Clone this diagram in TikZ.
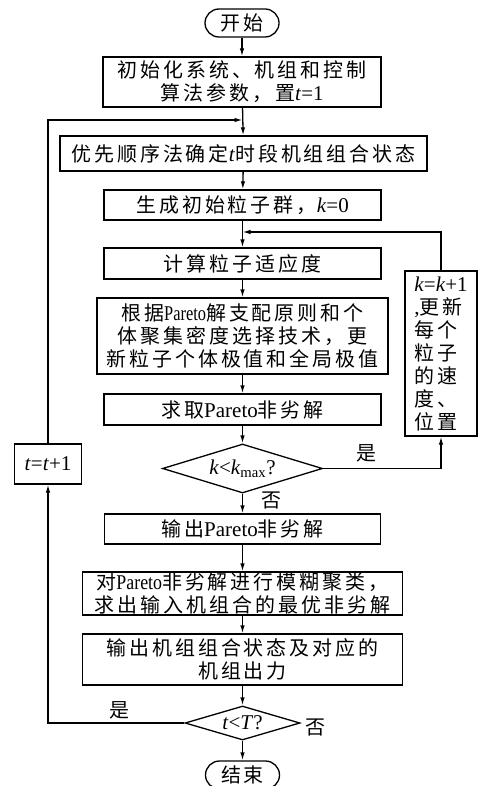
\documentclass[tikz,border=0pt]{standalone}
\usepackage{fontspec}
\usepackage{graphicx}
\setmainfont{Liberation Serif}
\newfontfamily\cjk[Scale=0.95,LetterSpace=15]{Noto Sans CJK SC}
\newcommand\zh[1]{{\cjk #1}}
\newcommand\narrow[2]{\scalebox{#1}[1]{#2}}
\usetikzlibrary{shapes.geometric,arrows.meta}
\begin{document}
\begin{tikzpicture}[x=1pt,y=-1pt,
  box/.style={draw, line width=1.3pt, inner sep=0pt, align=center, font=\fontsize{21}{23}\selectfont},
  term/.style={box, rounded corners=14pt, minimum width=74pt, minimum height=28pt},
  dec/.style={draw, diamond, line width=1.3pt, inner sep=0pt, font=\fontsize{21}{23}\selectfont},
  arr/.style={line width=1.3pt, -{Latex[length=8pt,width=4.5pt]}},
  ln/.style={line width=1.3pt},
  lab/.style={inner sep=0pt, font=\fontsize{21}{23}\selectfont}]
\useasboundingbox (0,0) rectangle (484,786);
\fill[white] (0,0) rectangle (484,786);
\node[term] (start) at (242,23) {\zh{开始}};
\node[box, minimum width=278pt, minimum height=50pt] (b1) at (242,82) {\zh{初始化系统、机组和控制}\\\zh{算法参数，置}\textit{t}=1};
\node[box, minimum width=367pt, minimum height=35pt] (b2) at (243.5,153.5) {\zh{优先顺序法确定}\textit{t}\zh{时段机组组合状态}};
\node[box, minimum width=277pt, minimum height=30pt] (b3) at (242.5,205) {\zh{生成初始粒子群，}\textit{k}=0};
\node[box, minimum width=277pt, minimum height=31pt] (b4) at (242.5,263.5) {\zh{计算粒子适应度}};
\node[box, minimum width=291pt, minimum height=76pt] (b5) at (242.5,336) {\zh{根据}\narrow{0.78}{Pareto}\zh{解支配原则和个}\\\zh{体聚集密度选择技术，更}\\\zh{新粒子个体极值和全局极值}};
\node[box, minimum width=277pt, minimum height=31pt] (b6) at (242.5,409.5) {\zh{求取}Pareto\zh{非劣解}};
\node[dec, aspect=3.3, minimum width=160pt, minimum height=49pt] (d1) at (242.5,468.5) {\textit{k}<\textit{k}\textsubscript{max}?};
\node[box, minimum width=276pt, minimum height=30pt] (b7) at (242.5,529) {\zh{输出}Pareto\zh{非劣解}};
\node[box, minimum width=320pt, minimum height=43pt] (b8) at (242.5,593.5) {\zh{对}\narrow{0.85}{Pareto}\zh{非劣解进行模糊聚类，}\\\zh{求出输入机组合的最优非劣解}};
\node[box, minimum width=320pt, minimum height=51pt] (b9) at (242.5,659.5) {\zh{输出机组组合状态及对应的}\\\zh{机组出力}};
\node[dec, aspect=3.4, minimum width=115pt, minimum height=34pt] (d2) at (242.5,723) {\textit{t}<\textit{T}?};
\node[term] (end) at (242.5,775) {\zh{结束}};
\node[box, align=left, minimum width=72pt, minimum height=165pt] (rb) at (441,353.5) {\textit{k}=\textit{k}+1\\,\zh{更新}\\\zh{每个}\\\zh{粒子}\\\zh{的速}\\\zh{度、}\\\zh{位置}};
\node[box, minimum width=67pt, minimum height=40pt] (tb) at (48,464) {\textit{t}=\textit{t}+1};
\coordinate (j1) at (242.5,120);
\coordinate (j2) at (242.5,232);
\coordinate (r1) at (441,468.5);
\coordinate (l1) at (48,723);
\draw[arr] (start) -- (b1);
\draw[arr] (b1) -- (b2);
\draw[arr] (b2) -- (b3);
\draw[arr] (b3) -- (b4);
\draw[arr] (b4) -- (b5);
\draw[arr] (b5) -- (b6);
\draw[arr] (b6) -- (d1);
\draw[arr] (d1) -- (b7);
\draw[arr] (b7) -- (b8);
\draw[arr] (b8) -- (b9);
\draw[arr] (b9) -- (d2);
\draw[arr] (d2) -- (end);
\draw[arr] (d1.east) -- (r1) -- (rb.south);
\draw[arr] (rb.north) |- (j2);
\draw[arr] (d2.west) -- (l1) -- (tb.south);
\draw[arr] (tb.north) |- (j1);
\node[lab] (y1) at (366,453) {\zh{是}};
\node[lab] (n1) at (271,500) {\zh{否}};
\node[lab] (y2) at (119,710) {\zh{是}};
\node[lab] (n2) at (315,727) {\zh{否}};
\end{tikzpicture}
\end{document}
